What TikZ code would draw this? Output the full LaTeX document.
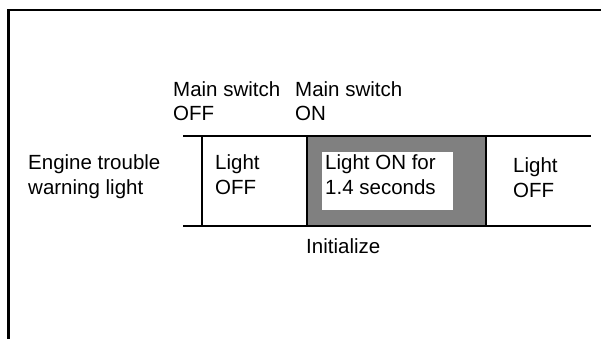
\documentclass[tikz,border=0pt]{standalone}
\usepackage{fontspec}
\setmainfont{Liberation Sans}
\usepackage{tikz}

\begin{document}
\begin{tikzpicture}[
  x=1pt, y=-1pt,
  every node/.style={inner sep=0pt, font=\fontsize{20.5}{24.5}\selectfont, align=left},
  txt/.style={anchor=base west},
  rule/.style={line width=1.8pt},
  frame/.style={line width=2.8pt},
  lit/.style={fill=black!50},
]
\useasboundingbox (0,0) rectangle (601,339);
% outer frame
\draw[frame] (8.7,339) -- (8.7,10) -- (601,10);
% time chart
\coordinate (tl) at (183,136);
\coordinate (tr) at (591,136);
\coordinate (bl) at (183,226);
\coordinate (br) at (591,226);
\coordinate (on) at (307,136);
\coordinate (off) at (486,226);
\fill[lit] (on) rectangle (off);
\fill[white] (322,152) rectangle (453,210);
\draw[rule] (tl) -- (tr);
\draw[rule] (bl) -- (br);
\draw[rule] (202,136) -- (202,226);
\draw[rule] (on) -- (on |- bl);
\draw[rule] (off |- tl) -- (off);
% labels (base = last line)
\node[txt] (swoff) at (173,121) {Main switch\\OFF};
\node[txt] (swon) at (295,121) {Main switch\\ON};
\node[txt] (lamp) at (28,194) {Engine trouble\\warning light};
\node[txt] (off1) at (215,194) {Light\\OFF};
\node[txt] (on1) at (325,194) {Light ON for\\1.4 seconds};
\node[txt] (off2) at (513,197) {Light\\OFF};
\node[txt] (init) at (306,253) {Initialize};
\end{tikzpicture}
\end{document}
